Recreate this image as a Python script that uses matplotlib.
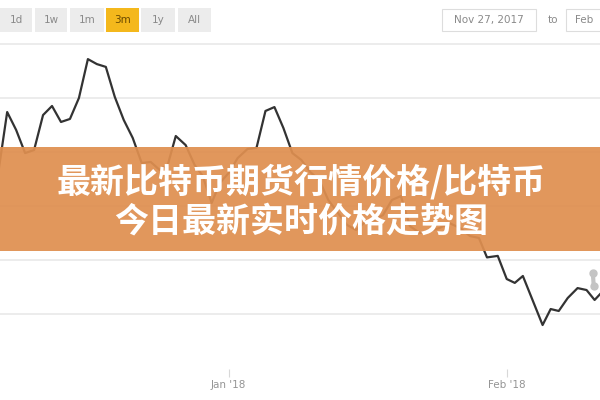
import numpy as np
import pandas as pd
import matplotlib
matplotlib.use("Agg")
import matplotlib.pyplot as plt
from matplotlib.patches import Rectangle

# ── data (days after 2018-01-01, price in USD) ────────────────────────────────
days = [-25.6, -24.7, -23.7, -22.7, -21.7, -20.7, -19.7, -18.7, -17.7, -16.7,
        -15.7, -14.7, -13.7, -12.7, -11.7, -10.7, -9.7, -8.7, -7.7, -6.8,
        -5.9, -4.8, -3.8, -2.9, -1.9, -1.0, 0.0, 1.0, 2.1, 3.1,
        4.1, 5.1, 6.1, 7.1, 8.1, 9.1, 10.1, 11.1, 12.1, 13.2,
        14.2, 15.2, 16.2, 17.2, 18.2, 19.2, 20.2, 21.3, 22.4, 23.5,
        24.6, 25.8, 26.9, 27.9, 28.8, 30.0, 31.0, 31.9, 32.8, 35.0,
        35.9, 36.8, 37.8, 38.9, 39.9, 40.8, 41.7]
price = [14300, 16850, 16020, 14950, 15090, 16710, 17130, 16390, 16530, 17500,
         19300, 19070, 18940, 17550, 16480, 15650, 14490, 14540, 14170, 14400,
         15740, 15320, 14400, 13890, 12640, 13560, 14030, 14720, 15140, 15190,
         16900, 17080, 16110, 14950, 14630, 14070, 13700, 12780, 12220, 11620,
         11390, 11760, 11850, 12080, 12780, 12960, 11570, 11250, 11340, 11480,
         11710, 11480, 11110, 11020, 10120, 10190, 9120, 8940, 9260, 6990,
         7730, 7640, 8240, 8700, 8610, 8150, 8550]

hover_day = [40.6, 40.7]
hover_price = [9400, 8800]

grid_levels = [7500, 10000, 12500, 15000, 17500, 20000]
tick_dates = ["2018-01-01", "2018-02-01"]
tick_labels = ["Jan '18", "Feb '18"]

ranges = ["1d", "1w", "1m", "3m", "1y", "All"]
active_range = "3m"
date_from = "Nov 27, 2017"
date_to = "Feb"

title_lines = ["最新比特币期货行情价格/比特币", "今日最新实时价格走势图"]

t0 = pd.Timestamp("2018-01-01")
dates = [t0 + pd.Timedelta(days=d) for d in days]
hover_dates = [t0 + pd.Timedelta(days=d) for d in hover_day]

# ── figure ────────────────────────────────────────────────────────────────────
W, H = 600, 400
fig = plt.figure(figsize=(6, 4), dpi=100)
fig.patch.set_facecolor("white")

def fx(px):
    return px / W

def fy(py):
    return 1 - py / H

ax = fig.add_axes([0, fy(369), 1, (369 - 40) / H])
ax.set_facecolor("none")
for s in ax.spines.values():
    s.set_visible(False)

for g in grid_levels:
    ax.axhline(g, color="#e9e9e9", lw=1.2, zorder=0)

ax.plot(dates, price, color="#333333", lw=1.6, solid_joinstyle="round", zorder=3)
ax.plot(hover_dates, hover_price, color="#c4c4c4", lw=3, marker="o", ms=5,
        zorder=4)

ax.set_xlim(t0 + pd.Timedelta(days=-25.5), t0 + pd.Timedelta(days=41.4))
ax.set_ylim(4954, 20185)
ax.set_yticks([])
ax.set_xticks(pd.to_datetime(tick_dates))
ax.set_xticklabels(tick_labels, fontsize=7.5, color="#959595",
                   fontfamily="DejaVu Sans")
ax.tick_params(axis="x", length=6, width=0.8, color="#d8d8d8", pad=2)

# ── range buttons ─────────────────────────────────────────────────────────────
btn_x = [0, 35, 70, 106, 141, 178]
btn_w = [32, 32, 34, 33, 34, 33]
for lab, x0, w in zip(ranges, btn_x, btn_w):
    active = lab == active_range
    fig.patches.append(Rectangle((fx(x0), fy(32)), fx(w), 24 / H,
                                 transform=fig.transFigure,
                                 facecolor="#f4b81c" if active else "#ececec",
                                 edgecolor="none", zorder=1))
    fig.text(fx(x0 + w / 2), fy(20), lab, ha="center", va="center",
             fontsize=7.5, color="#6a4a00" if active else "#8a8a8a",
             fontfamily="DejaVu Sans")

# ── date boxes ────────────────────────────────────────────────────────────────
fig.patches.append(Rectangle((fx(442), fy(31)), fx(94), 22 / H,
                             transform=fig.transFigure, facecolor="white",
                             edgecolor="#dddddd", lw=0.8, zorder=1))
fig.text(fx(489), fy(20), date_from, ha="center", va="center", fontsize=7.5,
         color="#8a8a8a", fontfamily="DejaVu Sans")
fig.text(fx(553), fy(20), "to", ha="center", va="center", fontsize=7.5,
         color="#8a8a8a", fontfamily="DejaVu Sans")
fig.patches.append(Rectangle((fx(566), fy(31)), fx(40), 22 / H,
                             transform=fig.transFigure, facecolor="white",
                             edgecolor="#dddddd", lw=0.8, zorder=1))
fig.text(fx(575), fy(20), date_to, ha="left", va="center", fontsize=7.5,
         color="#8a8a8a", fontfamily="DejaVu Sans")

# ── orange title banner ───────────────────────────────────────────────────────
fig.patches.append(Rectangle((0, fy(251)), 1, 104 / H,
                             transform=fig.transFigure, facecolor="#df8f50",
                             alpha=0.93, edgecolor="none", zorder=5))
for txt, yc in zip(title_lines, [182, 221]):
    fig.text(0.502, fy(yc), txt, ha="center", va="center", fontsize=24.5,
             color="white", fontweight="heavy",
             fontfamily=["Noto Sans CJK SC", "DejaVu Sans"], zorder=6)

fig.savefig("out.png", dpi=100)
